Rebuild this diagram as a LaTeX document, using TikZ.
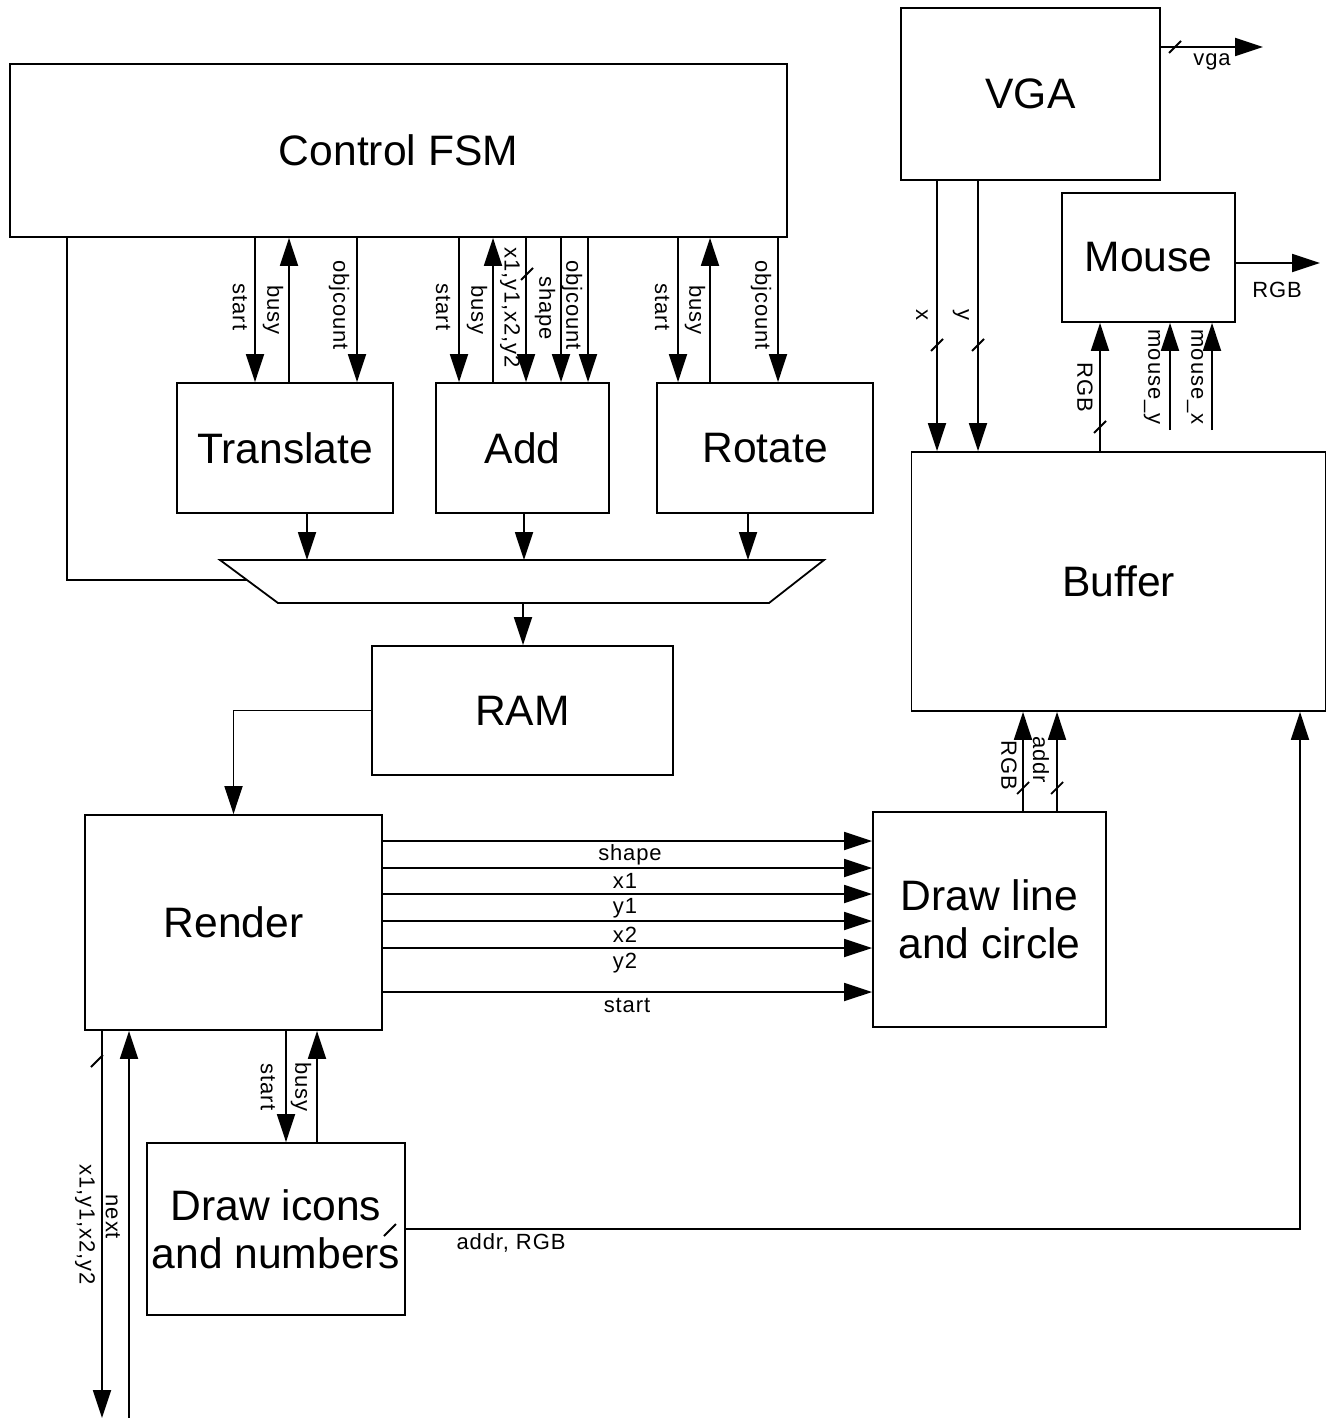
\documentclass[tikz,border=0pt]{standalone}
\usepackage{fontspec}
\setmainfont{Liberation Sans}
\newfontfamily\lblfont[LetterSpace=4]{Liberation Sans}
\usetikzlibrary{arrows.meta,calc}
\newcommand\bigtxt{\fontsize{21.3}{24}\selectfont}
\newcommand\smalltxt{\lblfont\fontsize{11}{13}\selectfont}
\newcommand\busmark[1]{\draw[ln] ([shift={(-6,6)}]#1) -- ([shift={(6,-6)}]#1);}
\begin{document}
\begin{tikzpicture}[x=0.5pt,y=-0.5pt,
  box/.style={draw, line width=0.9pt, inner sep=0pt, font=\bigtxt, align=center},
  ln/.style={line width=0.9pt},
  arr/.style={line width=0.9pt, -{Triangle[length=14pt,width=9pt]}},
  lbl/.style={font=\smalltxt, inner sep=0pt},
  vlbl/.style={lbl, rotate=-90}]
\useasboundingbox (0,0) rectangle (1327,1418);
% boxes
\node[box, minimum width=388.5pt, minimum height=86.5pt] (fsm) at (398.5,150.5) {Control FSM};
\node[box, minimum width=129.5pt, minimum height=86pt] (vga) at (1030.5,94) {VGA};
\node[box, minimum width=86.5pt, minimum height=64.5pt] (mouse) at (1148.5,257.5) {Mouse};
\node[box, minimum width=207pt, minimum height=129.5pt] (buffer) at (1118.5,581.5) {Buffer};
\node[box, minimum width=108pt, minimum height=65pt] (translate) at (285,448) {Translate};
\node[box, minimum width=86.5pt, minimum height=65pt] (add) at (522.5,448) {Add};
\node[box, minimum width=108pt, minimum height=65pt] (rotate) at (765,448) {Rotate};
\node[box, minimum width=150.5pt, minimum height=64.5pt] (ram) at (522.5,710.5) {RAM};
\node[box, minimum width=148.5pt, minimum height=107.5pt] (render) at (233.5,922.5) {Render};
\node[box, minimum width=116.5pt, minimum height=107.5pt] (drawline) at (989.5,919.5) {Draw line\\and circle};
\node[box, minimum width=129pt, minimum height=86pt] (icons) at (276,1229) {Draw icons\\and numbers};
% x positions
\coordinate (tS) at (255,0); \coordinate (tB) at (289,0); \coordinate (tO) at (357,0);
\coordinate (aS) at (459,0); \coordinate (aB) at (493,0); \coordinate (aX) at (526,0);
\coordinate (aSh) at (561,0); \coordinate (aO) at (588,0);
\coordinate (rS) at (678,0); \coordinate (rB) at (710,0); \coordinate (rO) at (778,0);
% FSM <-> Translate
\draw[arr] (fsm.south -| tS) -- (translate.north -| tS);
\draw[arr] (translate.north -| tB) -- (fsm.south -| tB);
\draw[arr] (fsm.south -| tO) -- (translate.north -| tO);
\node[vlbl] (l1) at (240,307) {start};
\node[vlbl] (l2) at (273,310) {busy};
\node[vlbl] (l3) at (339,305) {objcount};
% FSM <-> Add
\draw[arr] (fsm.south -| aS) -- (add.north -| aS);
\draw[arr] (add.north -| aB) -- (fsm.south -| aB);
\draw[arr] (fsm.south -| aX) -- (add.north -| aX);
\draw[arr] (fsm.south -| aSh) -- (add.north -| aSh);
\draw[arr] (fsm.south -| aO) -- (add.north -| aO);
\coordinate (sA) at (527,274); \busmark{sA}
\node[vlbl] (l4) at (443,307) {start};
\node[vlbl] (l5) at (477,310) {busy};
\node[vlbl] (l6) at (510,308) {x1,y1,x2,y2};
\node[vlbl] (l7) at (545,308) {shape};
\node[vlbl] (l8) at (572,305) {objcount};
% FSM <-> Rotate
\draw[arr] (fsm.south -| rS) -- (rotate.north -| rS);
\draw[arr] (rotate.north -| rB) -- (fsm.south -| rB);
\draw[arr] (fsm.south -| rO) -- (rotate.north -| rO);
\node[vlbl] (l9) at (662,307) {start};
\node[vlbl] (l10) at (695,310) {busy};
\node[vlbl] (l11) at (761,305) {objcount};
% mux
\coordinate (m1) at (220,560); \coordinate (m2) at (824,560);
\coordinate (m3) at (769,603); \coordinate (m4) at (278,603);
\draw[ln] (m1) -- (m2) -- (m3) -- (m4) -- cycle;
\coordinate (mi1) at (307,560); \coordinate (mi2) at (524,560); \coordinate (mi3) at (748,560);
\coordinate (mo) at (523,603);
\draw[arr] (translate.south -| mi1) -- (mi1);
\draw[arr] (add.south -| mi2) -- (mi2);
\draw[arr] (rotate.south -| mi3) -- (mi3);
\draw[arr] (mo) -- (ram.north -| mo);
\coordinate (fl) at (67,0); \coordinate (mL) at (247,580);
\draw[ln] (fsm.south -| fl) |- (mL);
% RAM -> Render
\draw[arr] (ram.west) -| (render.north);
% Render -> Draw line
\foreach \yy in {841,868,894,921,948,992}{
  \draw[arr] (render.east |- 0,\yy) -- (drawline.west |- 0,\yy);
}
\node[lbl] (s1) at (630,855) {shape};
\node[lbl] (s2) at (625,881) {x1};
\node[lbl] (s3) at (625,908) {y1};
\node[lbl] (s4) at (625,935) {x2};
\node[lbl] (s5) at (625,963) {y2};
\node[lbl] (s6) at (627,1005) {start};
% Draw line -> Buffer
\coordinate (dR) at (1023,0); \coordinate (dA) at (1057,0);
\draw[arr] (drawline.north -| dR) -- (buffer.south -| dR);
\draw[arr] (drawline.north -| dA) -- (buffer.south -| dA);
\coordinate (sdR) at (1023,788); \busmark{sdR}
\coordinate (sdA) at (1057,788); \busmark{sdA}
\node[vlbl] (b1) at (1009,765) {RGB};
\node[vlbl] (b2) at (1041,760) {addr};
% VGA -> Buffer
\coordinate (vx) at (937,0); \coordinate (vy) at (978,0);
\draw[arr] (vga.south -| vx) -- (buffer.north -| vx);
\draw[arr] (vga.south -| vy) -- (buffer.north -| vy);
\coordinate (svx) at (937,345); \busmark{svx}
\coordinate (svy) at (978,345); \busmark{svy}
\node[vlbl] (v1) at (922,315) {x};
\node[vlbl] (v2) at (961,315) {y};
% VGA out
\coordinate (vgaout) at (1263,47);
\draw[arr] (vga.east |- vgaout) -- (vgaout);
\coordinate (svo) at (1175,47); \busmark{svo}
\node[lbl] (v3) at (1212,62) {vga};
% Buffer -> Mouse
\coordinate (bR) at (1100,0);
\draw[arr] (buffer.north -| bR) -- (mouse.south -| bR);
\coordinate (sbR) at (1100,427); \busmark{sbR}
\node[vlbl] (m5) at (1085,387) {RGB};
\coordinate (my) at (1170,430); \coordinate (mx) at (1212,430);
\draw[arr] (my) -- (mouse.south -| my);
\draw[arr] (mx) -- (mouse.south -| mx);
\node[vlbl] (m6) at (1152,377) {mouse\_y};
\node[vlbl] (m7) at (1195,377) {mouse\_x};
% Mouse out
\coordinate (mout) at (1320,263);
\draw[arr] (mouse.east |- mout) -- (mout);
\node[lbl] (m8) at (1277,290) {RGB};
% Render bottom
\coordinate (rx) at (102,1418); \coordinate (rn) at (129,1418);
\draw[arr] (render.south -| rx) -- (rx);
\draw[arr] (rn) -- (render.south -| rn);
\coordinate (srx) at (97,1061); \busmark{srx}
\node[vlbl] (n1) at (85,1225) {x1,y1,x2,y2};
\node[vlbl] (n2) at (113,1217) {next};
% Render <-> icons
\coordinate (ist) at (286,0); \coordinate (ibu) at (317,0);
\draw[arr] (render.south -| ist) -- (icons.north -| ist);
\draw[arr] (icons.north -| ibu) -- (render.south -| ibu);
\node[vlbl] (n3) at (268,1087) {start};
\node[vlbl] (n4) at (301,1087) {busy};
% icons -> Buffer
\coordinate (xb) at (1300,0);
\draw[arr] (icons.east) -| (buffer.south -| xb);
\coordinate (sic) at (390,1230); \busmark{sic}
\node[lbl] (n5) at (511,1243) {addr, RGB};
\end{tikzpicture}
\end{document}
